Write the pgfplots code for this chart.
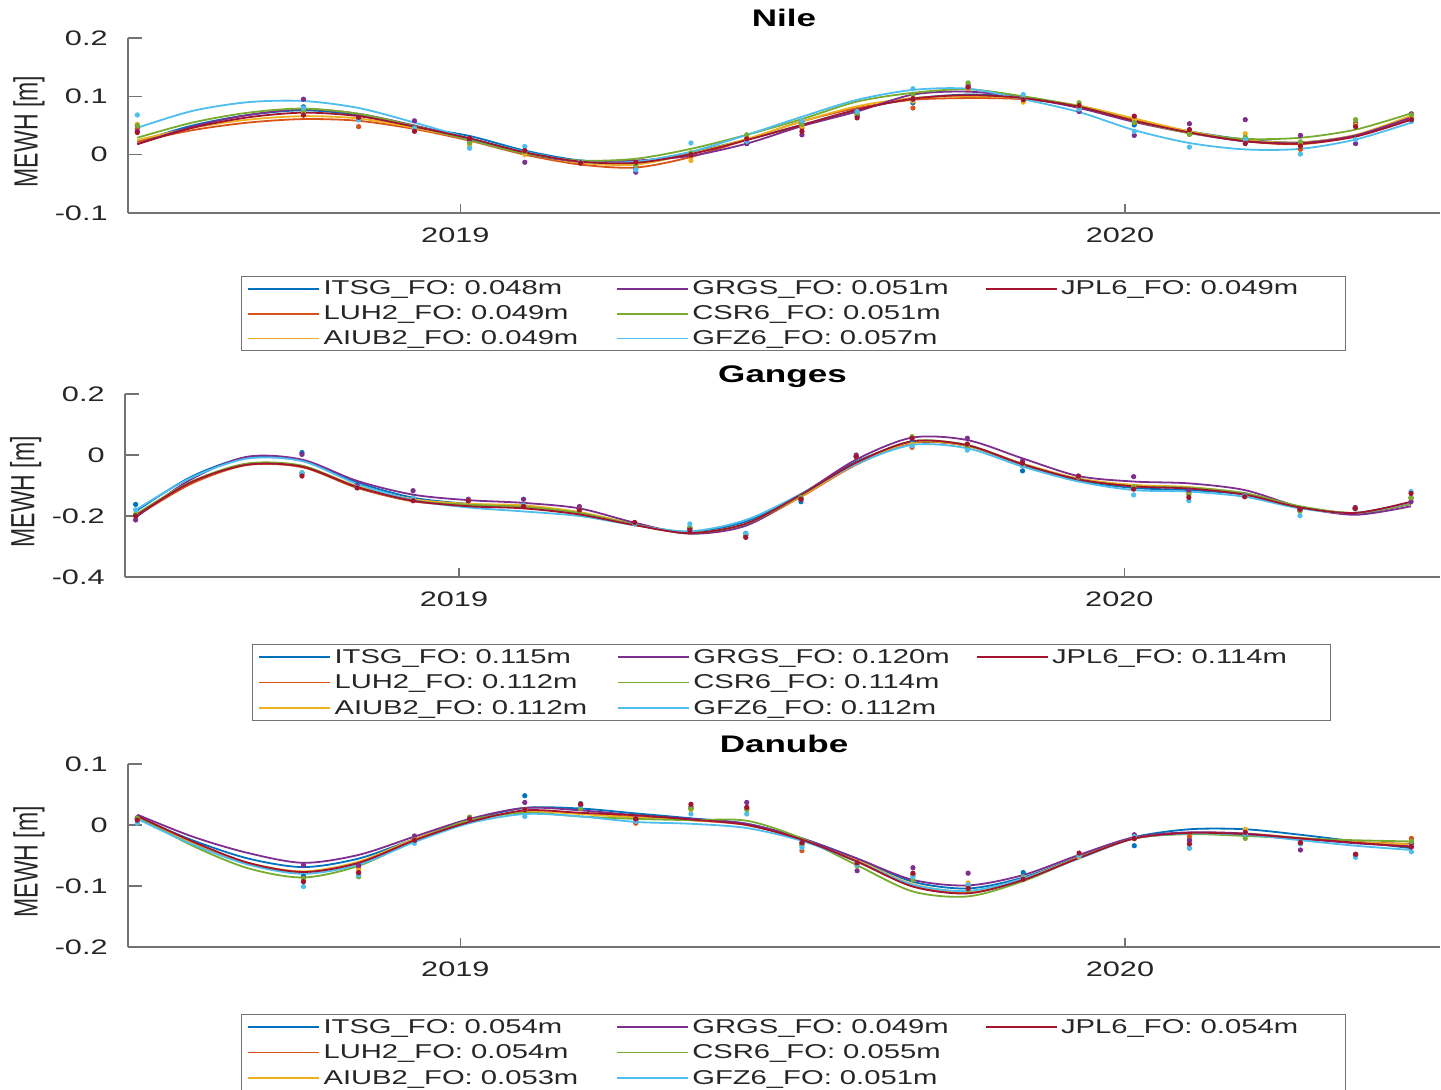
\documentclass[border=0pt]{standalone}
\usepackage{fontspec}
\setmainfont{Liberation Sans}[FakeStretch=1.46]
\newfontfamily\ylabfont{Liberation Sans}[FakeStretch=0.685]
\usepackage{pgfplots}
\usepackage{pgfplotstable}
\pgfplotsset{compat=1.18}

\definecolor{ITSGc}{rgb}{0,0.447,0.741}
\definecolor{LUHc}{rgb}{0.850,0.325,0.098}
\definecolor{AIUBc}{rgb}{0.929,0.694,0.125}
\definecolor{GRGSc}{rgb}{0.494,0.184,0.556}
\definecolor{CSRc}{rgb}{0.466,0.674,0.188}
\definecolor{GFZc}{rgb}{0.301,0.745,0.933}
\definecolor{JPLc}{rgb}{0.635,0.078,0.184}

% x = year - 2018
\pgfplotstableread{
t ITSG LUH AIUB GRGS CSR GFZ JPL
0.514 0.022 0.022 0.025 0.018 0.029 0.046 0.018
0.597 0.050 0.042 0.046 0.048 0.055 0.075 0.046
0.681 0.068 0.055 0.060 0.068 0.072 0.090 0.064
0.764 0.076 0.061 0.066 0.078 0.079 0.092 0.072
0.847 0.068 0.058 0.062 0.070 0.070 0.080 0.066
0.931 0.048 0.044 0.046 0.050 0.049 0.055 0.048
1.014 0.032 0.024 0.026 0.027 0.025 0.028 0.028
1.097 0.007 0.000 0.002 0.002 0.002 0.005 0.004
1.181 -0.010 -0.017 -0.014 -0.012 -0.010 -0.012 -0.012
1.264 -0.012 -0.022 -0.017 -0.010 -0.007 -0.012 -0.014
1.347 0.004 -0.004 0.002 -0.002 0.010 0.005 0.001
1.431 0.026 0.026 0.027 0.019 0.034 0.034 0.025
1.514 0.051 0.057 0.057 0.049 0.061 0.065 0.051
1.597 0.077 0.080 0.083 0.074 0.091 0.094 0.077
1.681 0.096 0.094 0.097 0.103 0.106 0.111 0.096
1.764 0.103 0.097 0.100 0.108 0.112 0.113 0.102
1.847 0.098 0.095 0.097 0.098 0.100 0.095 0.097
1.931 0.081 0.083 0.084 0.080 0.083 0.073 0.082
2.014 0.058 0.061 0.062 0.056 0.058 0.042 0.058
2.097 0.040 0.039 0.040 0.037 0.037 0.020 0.038
2.181 0.026 0.023 0.025 0.023 0.027 0.009 0.023
2.264 0.021 0.018 0.021 0.020 0.029 0.010 0.019
2.347 0.033 0.032 0.034 0.033 0.043 0.026 0.031
2.431 0.062 0.063 0.067 0.064 0.071 0.055 0.060
}\nileC
\pgfplotstableread{
t ITSG LUH AIUB GRGS CSR GFZ JPL
0.514 0.050 0.045 0.052 0.040 0.050 0.068 0.038
0.764 0.082 0.068 0.070 0.095 0.075 0.080 0.068
0.847 0.062 0.048 0.060 0.060 0.060 0.060 0.064
0.931 0.046 0.044 0.045 0.058 0.045 0.045 0.040
1.014 0.025 0.020 0.015 0.027 0.020 0.011 0.028
1.097 0.005 0.003 0.000 -0.013 0.005 0.014 0.007
1.181 -0.012 -0.015 -0.013 -0.014 -0.012 -0.012 -0.014
1.264 -0.024 -0.020 -0.018 -0.030 -0.018 -0.026 -0.013
1.347 0.000 -0.003 -0.010 0.000 0.003 0.020 0.000
1.431 0.019 0.028 0.028 0.019 0.034 0.023 0.027
1.514 0.054 0.046 0.049 0.034 0.052 0.058 0.040
1.597 0.069 0.070 0.071 0.066 0.070 0.074 0.063
1.681 0.089 0.080 0.092 0.095 0.103 0.113 0.096
1.764 0.115 0.113 0.114 0.120 0.123 0.116 0.116
1.847 0.096 0.095 0.090 0.097 0.097 0.103 0.094
1.931 0.080 0.082 0.082 0.074 0.089 0.078 0.084
2.014 0.051 0.062 0.060 0.033 0.055 0.040 0.066
2.097 0.035 0.035 0.035 0.053 0.035 0.013 0.043
2.181 0.025 0.025 0.036 0.060 0.030 0.026 0.019
2.264 0.020 0.009 0.018 0.033 0.022 0.001 0.015
2.347 0.054 0.052 0.050 0.019 0.060 0.026 0.048
2.431 0.062 0.063 0.065 0.070 0.068 0.057 0.060
}\nileD
\pgfplotstableread{
t ITSG LUH AIUB GRGS CSR GFZ JPL
0.514 -0.185 -0.202 -0.198 -0.205 -0.195 -0.180 -0.200
0.597 -0.072 -0.095 -0.090 -0.080 -0.088 -0.075 -0.090
0.681 -0.008 -0.033 -0.030 -0.006 -0.028 -0.012 -0.032
0.764 -0.018 -0.040 -0.036 -0.015 -0.035 -0.020 -0.038
0.847 -0.090 -0.108 -0.102 -0.085 -0.105 -0.095 -0.105
0.931 -0.140 -0.152 -0.145 -0.130 -0.150 -0.148 -0.150
1.014 -0.160 -0.165 -0.160 -0.148 -0.163 -0.172 -0.168
1.097 -0.170 -0.168 -0.165 -0.157 -0.170 -0.185 -0.175
1.181 -0.190 -0.190 -0.187 -0.175 -0.190 -0.200 -0.195
1.264 -0.228 -0.228 -0.226 -0.222 -0.228 -0.230 -0.230
1.347 -0.252 -0.257 -0.255 -0.258 -0.255 -0.250 -0.256
1.431 -0.218 -0.230 -0.228 -0.232 -0.226 -0.213 -0.225
1.514 -0.128 -0.137 -0.135 -0.130 -0.132 -0.128 -0.130
1.597 -0.022 -0.032 -0.030 -0.015 -0.025 -0.030 -0.025
1.681 0.040 0.040 0.042 0.057 0.045 0.033 0.045
1.764 0.030 0.030 0.030 0.049 0.033 0.022 0.032
1.847 -0.032 -0.030 -0.028 -0.011 -0.030 -0.038 -0.030
1.931 -0.083 -0.078 -0.077 -0.069 -0.080 -0.087 -0.080
2.014 -0.108 -0.100 -0.098 -0.087 -0.102 -0.115 -0.103
2.097 -0.115 -0.108 -0.105 -0.093 -0.107 -0.120 -0.110
2.181 -0.130 -0.128 -0.126 -0.115 -0.125 -0.137 -0.130
2.264 -0.172 -0.170 -0.170 -0.170 -0.168 -0.175 -0.172
2.347 -0.192 -0.190 -0.190 -0.196 -0.190 -0.190 -0.190
2.431 -0.160 -0.160 -0.158 -0.168 -0.158 -0.155 -0.153
}\gangesC
\pgfplotstableread{
t ITSG LUH AIUB GRGS CSR GFZ JPL
0.514 -0.162 -0.195 -0.195 -0.213 -0.195 -0.180 -0.200
0.764 0.008 -0.062 -0.058 0.002 -0.060 -0.058 -0.069
0.847 -0.105 -0.106 -0.106 -0.100 -0.106 -0.106 -0.108
0.931 -0.140 -0.142 -0.142 -0.117 -0.142 -0.142 -0.150
1.014 -0.150 -0.150 -0.150 -0.145 -0.150 -0.150 -0.150
1.097 -0.165 -0.165 -0.165 -0.145 -0.165 -0.165 -0.169
1.181 -0.180 -0.180 -0.180 -0.169 -0.180 -0.180 -0.180
1.264 -0.225 -0.225 -0.225 -0.225 -0.225 -0.225 -0.221
1.347 -0.240 -0.240 -0.240 -0.240 -0.237 -0.226 -0.246
1.431 -0.257 -0.262 -0.262 -0.262 -0.262 -0.257 -0.270
1.514 -0.153 -0.145 -0.145 -0.145 -0.139 -0.145 -0.145
1.597 -0.005 -0.005 -0.005 0.000 -0.005 -0.005 -0.005
1.681 0.045 0.025 0.035 0.055 0.060 0.030 0.055
1.764 0.030 0.030 0.030 0.055 0.030 0.016 0.036
1.847 -0.052 -0.035 -0.035 -0.020 -0.035 -0.035 -0.027
1.931 -0.072 -0.072 -0.072 -0.072 -0.072 -0.069 -0.069
2.014 -0.105 -0.105 -0.105 -0.071 -0.105 -0.131 -0.112
2.097 -0.125 -0.125 -0.125 -0.117 -0.130 -0.150 -0.139
2.181 -0.134 -0.134 -0.134 -0.131 -0.134 -0.134 -0.137
2.264 -0.180 -0.180 -0.180 -0.180 -0.185 -0.199 -0.178
2.347 -0.176 -0.176 -0.176 -0.172 -0.176 -0.176 -0.175
2.431 -0.140 -0.142 -0.142 -0.153 -0.140 -0.120 -0.126
}\gangesD
\pgfplotstableread{
t ITSG LUH AIUB GRGS CSR GFZ JPL
0.514 0.013 0.012 0.013 0.017 0.014 0.010 0.015
0.597 -0.025 -0.030 -0.029 -0.019 -0.034 -0.032 -0.027
0.681 -0.055 -0.063 -0.062 -0.046 -0.071 -0.065 -0.062
0.764 -0.069 -0.077 -0.076 -0.062 -0.086 -0.080 -0.077
0.847 -0.055 -0.062 -0.060 -0.049 -0.067 -0.065 -0.062
0.931 -0.023 -0.024 -0.023 -0.019 -0.026 -0.028 -0.025
1.014 0.008 0.006 0.006 0.010 0.008 0.003 0.005
1.097 0.028 0.022 0.022 0.028 0.020 0.018 0.024
1.181 0.027 0.019 0.018 0.024 0.014 0.014 0.020
1.264 0.019 0.013 0.012 0.016 0.010 0.005 0.016
1.347 0.011 0.008 0.008 0.010 0.008 0.002 0.009
1.431 0.002 0.000 0.001 0.002 0.007 -0.005 0.000
1.514 -0.022 -0.024 -0.024 -0.022 -0.022 -0.026 -0.024
1.597 -0.055 -0.060 -0.058 -0.055 -0.066 -0.060 -0.060
1.681 -0.093 -0.100 -0.097 -0.090 -0.109 -0.098 -0.101
1.764 -0.104 -0.110 -0.109 -0.099 -0.117 -0.108 -0.112
1.847 -0.086 -0.089 -0.088 -0.082 -0.092 -0.088 -0.090
1.931 -0.052 -0.054 -0.053 -0.049 -0.054 -0.055 -0.054
2.014 -0.020 -0.022 -0.021 -0.020 -0.022 -0.022 -0.022
2.097 -0.007 -0.014 -0.013 -0.012 -0.015 -0.014 -0.013
2.181 -0.007 -0.016 -0.014 -0.014 -0.018 -0.016 -0.015
2.264 -0.016 -0.023 -0.021 -0.022 -0.022 -0.025 -0.022
2.347 -0.027 -0.028 -0.028 -0.030 -0.025 -0.034 -0.029
2.431 -0.038 -0.031 -0.032 -0.035 -0.027 -0.041 -0.036
}\danubeC
\pgfplotstableread{
t ITSG LUH AIUB GRGS CSR GFZ JPL
0.514 0.010 0.010 0.010 0.012 0.011 0.003 0.008
0.764 -0.084 -0.088 -0.090 -0.066 -0.088 -0.101 -0.093
0.847 -0.080 -0.070 -0.074 -0.066 -0.085 -0.082 -0.078
0.931 -0.022 -0.024 -0.022 -0.018 -0.024 -0.030 -0.025
1.014 0.010 0.011 0.011 0.012 0.013 0.010 0.010
1.097 0.048 0.025 0.025 0.037 0.025 0.014 0.025
1.181 0.035 0.032 0.032 0.032 0.027 0.032 0.034
1.264 0.008 0.003 0.008 0.010 0.008 0.006 0.010
1.347 0.027 0.027 0.025 0.030 0.027 0.018 0.034
1.431 0.027 0.027 0.027 0.037 0.025 0.018 0.029
1.514 -0.033 -0.042 -0.032 -0.029 -0.032 -0.037 -0.029
1.597 -0.065 -0.065 -0.065 -0.075 -0.067 -0.065 -0.062
1.681 -0.082 -0.082 -0.082 -0.070 -0.090 -0.085 -0.079
1.764 -0.100 -0.100 -0.095 -0.079 -0.106 -0.098 -0.104
1.847 -0.078 -0.087 -0.087 -0.087 -0.085 -0.087 -0.089
1.931 -0.050 -0.050 -0.052 -0.050 -0.050 -0.050 -0.046
2.014 -0.034 -0.022 -0.022 -0.016 -0.022 -0.019 -0.022
2.097 -0.025 -0.019 -0.025 -0.025 -0.038 -0.038 -0.031
2.181 -0.015 -0.015 -0.007 -0.015 -0.022 -0.015 -0.012
2.264 -0.029 -0.030 -0.030 -0.041 -0.030 -0.031 -0.029
2.347 -0.048 -0.050 -0.050 -0.050 -0.050 -0.053 -0.048
2.431 -0.030 -0.022 -0.030 -0.030 -0.027 -0.044 -0.036
}\danubeD

\newlength\legW
\newlength\legH
\newlength\legD
\newcommand{\lt}[1]{\makebox[\legW][l]{\rule[-\legD]{0pt}{\legH}#1}}

\newcommand{\series}[3]{%
  \addplot[#3c, line width=0.9pt, smooth, forget plot] table[x=t,y=#3]{#1};
  \addplot[#3c, only marks, mark=*, mark size=1.1pt, forget plot] table[x=t,y=#3]{#2};
}
\newcommand{\allseries}[2]{%
  \series{#1}{#2}{ITSG}\series{#1}{#2}{LUH}\series{#1}{#2}{AIUB}%
  \series{#1}{#2}{GRGS}\series{#1}{#2}{CSR}\series{#1}{#2}{GFZ}\series{#1}{#2}{JPL}%
}
\newcommand{\legs}[7]{%
  \addlegendimage{ITSGc, line width=0.9pt}\addlegendentry{\lt{ITSG\_FO: #1m}}
  \addlegendimage{GRGSc, line width=0.9pt}\addlegendentry{\lt{GRGS\_FO: #4m}}
  \addlegendimage{JPLc, line width=0.9pt}\addlegendentry{\lt{JPL6\_FO: #7m}}
  \addlegendimage{LUHc, line width=0.9pt}\addlegendentry{\lt{LUH2\_FO: #2m}}
  \addlegendimage{CSRc, line width=0.9pt}\addlegendentry{\lt{CSR6\_FO: #5m}}
  \addlegendimage{empty legend}\addlegendentry{}
  \addlegendimage{AIUBc, line width=0.9pt}\addlegendentry{\lt{AIUB2\_FO: #3m}}
  \addlegendimage{GFZc, line width=0.9pt}\addlegendentry{\lt{GFZ6\_FO: #6m}}
}

\pgfplotsset{
  panel/.style={
    scale only axis,
    axis x line*=bottom, axis y line*=left,
    tick pos=left,
    axis line style={-, black!55, line width=0.6pt},
    tick align=inside,
    xtick={1,2}, xticklabels={2019,2020},
    xtick style={black!55, line width=0.6pt, /pgfplots/major tick length=4.5pt},
    ytick style={black!55, line width=0.6pt, /pgfplots/major tick length=7pt},
    minor tick num=0,
    tick label style={font=\fontsize{10.5}{12}\selectfont, text=black!85},
    /pgf/number format/assume math mode=true,
    yticklabel style={inner sep=0pt, xshift=-10pt},
    xticklabel style={inner sep=0pt, yshift=-7pt, xshift=-2.5pt},
    title style={font=\bfseries\fontsize{12}{14}\selectfont, at={(axis description cs:0.5,1)}, anchor=base, inner sep=0pt},
    every axis y label/.style={at={(axis description cs:-0.0633,0.465)}, rotate=90, anchor=south, inner sep=0pt, font=\ylabfont\fontsize{16.8}{18}\selectfont, text=black!85},
    ylabel={MEWH [m]},
    legend columns=3,
    legend image code/.code={\draw[##1] (0pt,0pt) -- (35.5pt,0pt);},
    legend style={draw=black!55, line width=0.5pt, fill=white, font=\fontsize{10}{12}\selectfont, text=black!85, inner xsep=2.75pt, inner ysep=0pt, nodes={inner sep=1.75pt}, cells={anchor=west}, anchor=north},
  }
}

\begin{document}
\begin{tikzpicture}
\path[use as bounding box] (0pt,0pt) rectangle (720.5pt,-545pt);

% ---------- Nile ----------
\setlength\legW{137.5pt}\setlength\legH{9pt}\setlength\legD{1.6pt}
\begin{axis}[panel,
  at={(64pt,-106.5pt)}, anchor=south west,
  width=656pt, height=87.5pt,
  xmin=0.5, xmax=2.474, ymin=-0.1, ymax=0.2,
  ytick={-0.1,0,0.1,0.2}, yticklabels={-0.1,0,0.1,0.2},
  title={Nile}, title style={yshift=-0.5pt},
  legend style={at={(axis description cs:0.5072,-0.36)}, /tikz/every even column/.append style={column sep=7pt}},
]
\allseries{\nileC}{\nileD}
\legs{0.048}{0.049}{0.049}{0.051}{0.051}{0.057}{0.049}
\end{axis}

% ---------- Ganges ----------
\setlength\legW{134.5pt}\setlength\legH{9.5pt}\setlength\legD{1.8pt}
\begin{axis}[panel,
  at={(62.5pt,-288.5pt)}, anchor=south west,
  width=657.5pt, height=91.5pt,
  xmin=0.498, xmax=2.4745, ymin=-0.4, ymax=0.2,
  ytick={-0.4,-0.2,0,0.2}, yticklabels={-0.4,-0.2,0,0.2},
  title={Ganges}, title style={yshift=0pt},
  legend style={at={(axis description cs:0.5068,-0.366)}, /tikz/every even column/.append style={column sep=5pt}},
]
\allseries{\gangesC}{\gangesD}
\legs{0.115}{0.112}{0.112}{0.120}{0.114}{0.112}{0.114}
\end{axis}

% ---------- Danube ----------
\setlength\legW{137.5pt}\setlength\legH{9.5pt}\setlength\legD{1.8pt}
\begin{axis}[panel,
  at={(64pt,-473.5pt)}, anchor=south west,
  width=656pt, height=91.5pt,
  xmin=0.5, xmax=2.474, ymin=-0.2, ymax=0.1,
  ytick={-0.2,-0.1,0,0.1}, yticklabels={-0.2,-0.1,0,0.1},
  title={Danube}, title style={yshift=0pt},
  legend style={at={(axis description cs:0.5072,-0.366)}, /tikz/every even column/.append style={column sep=7pt}},
]
\allseries{\danubeC}{\danubeD}
\legs{0.054}{0.054}{0.053}{0.049}{0.055}{0.051}{0.054}
\end{axis}
\end{tikzpicture}
\end{document}
